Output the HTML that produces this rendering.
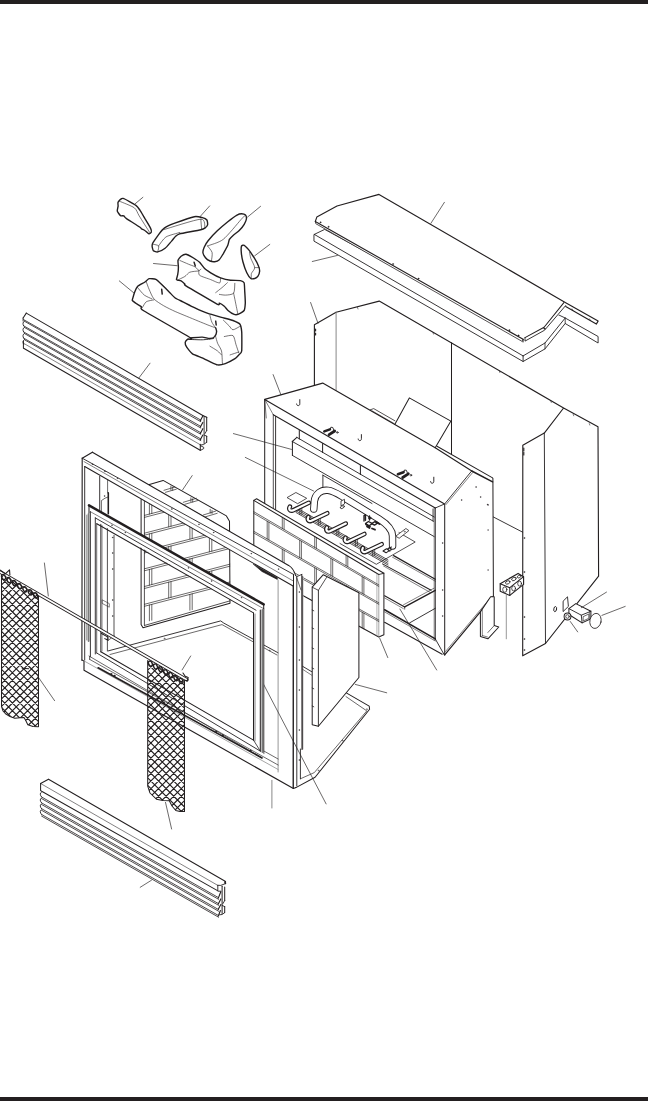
<!DOCTYPE html>
<html><head><meta charset="utf-8"><title>Exploded view</title>
<style>
html,body{margin:0;padding:0;background:#fff;}
body{width:648px;height:1101px;overflow:hidden;position:relative;font-family:"Liberation Sans",sans-serif;}
.bar{position:absolute;left:0;width:648px;background:#231f20;}
svg{position:absolute;left:0;top:0;}
</style></head><body>
<div class="bar" style="top:0;height:3.6px"></div>
<div class="bar" style="top:1097px;height:4px"></div>
<svg width="648" height="1101" viewBox="0 0 648 1101" fill="none" stroke-linecap="round" stroke-linejoin="round">
<path d="M118.1 202.2C118.6 201.4 121.2 198.1 123 198.4C124.8 198.7 134.2 204.2 135.9 205.4C137.6 206.6 139.1 209 140 210.3C140.9 211.6 143.8 216.6 144.8 218.4C145.9 220.2 149.8 226.7 150.5 228.1C151.2 229.5 151.5 231.5 151.3 232.1C151.1 232.7 149.6 234 148.9 233.8C148.2 233.6 145.5 231 144.8 230.5C144.1 230 142.1 229.2 141.6 228.9C141.1 228.6 141.5 228.4 140 227.3C138.5 226.2 127.8 219.5 126.2 218.4C124.6 217.3 124.4 216.2 123.8 215.9C123.2 215.6 121.2 216.1 120.5 215.6C119.8 215.1 117.5 212 117.3 211.1C117.1 210.2 118 207.1 118.1 206.2C118.2 205.3 117.6 203 118.1 202.2Z" stroke="#231f20" stroke-width="1.4" fill="#fff" />
<path d="M119.7 201.3C121.5 202.1 131.9 206 134.3 207.8C136.7 209.6 137.3 212.8 139.2 215.9C141.1 219 148.4 230.4 149.7 232.5" stroke="#231f20" stroke-width="0.62" fill="none" />
<path d="M135.1 203.8L142.9 197.3" stroke="#231f20" stroke-width="0.67"/>
<path d="M153 242.7C153.7 241.6 157.5 236.1 158.6 234.6C159.7 233.1 162.7 229.2 164.3 228.1C165.9 227 171.8 224.3 174.8 223.2C177.8 222.1 191.5 217.3 194.3 216.7C197.1 216.1 201.1 217.3 202.4 217.6C203.7 217.9 206.4 219.3 206.9 220C207.4 220.7 207.8 224 207.6 224.8C207.4 225.6 205.5 227.6 204.8 228.1C204.1 228.6 203.3 229.1 200.8 229.7C198.3 230.3 182.2 233.2 179.7 233.8C177.2 234.5 176.4 235.5 175.6 236.2C174.8 236.9 172.7 239.9 171.6 241.1C170.5 242.3 166.5 247.2 165.1 248.3C163.7 249.4 159 251.7 157.8 251.9C156.6 252.2 154 251.4 153.4 250.8C152.8 250.2 152.1 246.7 152.1 245.9C152.1 245.1 152.3 243.8 153 242.7Z" stroke="#231f20" stroke-width="1.4" fill="#fff" />
<path d="M163.5 229.7C168.2 228.4 195.6 219.4 200.8 219.2C206 219 204.3 227 204.8 228.1" stroke="#231f20" stroke-width="0.62" fill="none" />
<path d="M200.8 219.2C200.9 220.4 201.5 227.7 201.6 228.9" stroke="#231f20" stroke-width="0.62" fill="none" />
<path d="M153.4 244.3C154.1 244.5 158 245 158.6 245.9C159.2 246.8 157.9 250.8 157.8 251.5" stroke="#231f20" stroke-width="0.62" fill="none" />
<path d="M158.6 245.9C159.5 244.8 163.3 238.7 165.9 237C168.5 235.3 178 233.1 179.7 232.5" stroke="#231f20" stroke-width="0.62" fill="none" />
<path d="M200 216.7L209.7 205.9" stroke="#231f20" stroke-width="0.67"/>
<path d="M202.9 252.5C202.8 251.4 203.7 248.4 204.2 247.2C204.7 246 206.8 242.3 208.1 240.7C209.4 239.1 215.3 232.7 217.3 230.8C219.3 228.9 225.8 223.3 227.8 221.7C229.8 220.1 235.6 215.9 237 215.1C238.4 214.3 240.8 213.8 241.6 213.8C242.4 213.8 245 214.6 245.5 215.1C246 215.6 246.5 218.1 246.4 219C246.3 219.9 244.9 223.1 244.2 224.3C243.5 225.5 240.1 229.7 239 230.8C237.9 231.9 234.1 234.5 233.1 235.4C232.1 236.3 229.9 238.4 229.4 239.4C228.9 240.4 228.4 243.9 227.8 245.3C227.2 246.7 224 252.4 223.2 253.8C222.3 255.2 220.2 258.9 219.3 259.7C218.5 260.5 215.6 261.6 214.7 261.7C213.8 261.8 211 261.4 210.1 261C209.2 260.6 206.2 258.6 205.5 257.7C204.8 256.8 203 253.6 202.9 252.5Z" stroke="#231f20" stroke-width="1.4" fill="#fff" />
<path d="M207.5 245.9C209.5 245.1 219 242.7 223.2 239.4C227.4 236.1 238.2 222.7 240.9 219.7C243.6 216.7 244.4 216 244.9 215.5" stroke="#231f20" stroke-width="0.62" fill="none" />
<path d="M207.5 245.9C208.1 246.7 211.6 250.6 212.1 252.5C212.6 254.4 211.5 259.9 211.4 261" stroke="#231f20" stroke-width="0.62" fill="none" />
<path d="M247.5 217.1L260.6 206.3" stroke="#231f20" stroke-width="0.67"/>
<path d="M241.6 245.9C241.9 245.3 243.5 244.9 244.2 245.3C244.9 245.7 247.8 248.7 248.8 249.9C249.8 251.1 253.1 256.1 254.1 257.7C255.1 259.3 258.1 264.9 258.6 266.3C259.2 267.7 259.7 270.5 259.6 271.5C259.5 272.5 258.5 275.4 258 276.1C257.5 276.8 255.4 278.3 254.7 278.5C254 278.7 251.6 279.1 250.8 278.5C250 277.9 247.6 274.5 246.8 272.8C246 271.1 243.5 263.9 242.9 261.7C242.3 259.5 241.3 252.8 241.2 251.2C241.1 249.6 241.3 246.5 241.6 245.9Z" stroke="#231f20" stroke-width="1.4" fill="#fff" />
<path d="M249.5 252.5C249.7 253.2 250.2 256.5 250.8 258.4C251.5 260.3 254.6 265.7 254.7 267.6C254.8 269.5 251.8 272.2 251.4 273.5C251 274.8 251.4 277.7 251.4 278.3" stroke="#231f20" stroke-width="0.62" fill="none" />
<path d="M254.7 267.6C255.2 267.6 258.5 267.6 259 267.6" stroke="#231f20" stroke-width="0.62" fill="none" />
<path d="M254.7 255.8L269.8 244.4" stroke="#231f20" stroke-width="0.67"/>
<path d="M178 260.5C178.2 259.6 180.4 256.7 181.1 256.2C181.8 255.7 185 254.2 186 254.3C187 254.5 192.4 257.3 193.5 258C194.6 258.7 198.7 261.4 199.6 262.3C200.5 263.2 203.7 267.6 204.6 268.5C205.5 269.4 209.4 272 210.7 272.8C212 273.6 218.9 277.2 220.6 277.8C222.2 278.4 228.8 280 230.5 280.2C232.2 280.4 239.3 280.4 240.4 280.6C241.5 280.8 243.7 281.9 244.1 282.7C244.5 283.5 244.6 289 244.7 290.7C244.8 292.4 245.4 301.5 245.3 303.1C245.2 304.8 244.7 309.6 244.1 310.5C243.5 311.4 239.3 313.9 238.5 314.2C237.7 314.5 235.1 314.7 234.2 314.4C233.3 314.1 228.8 311.2 228 310.5C227.2 309.8 225 306.8 224.3 306.2C223.6 305.6 220 303.3 219.4 303.1C218.8 302.9 220.3 305.7 217.5 304.3C214.7 302.9 188.7 287.5 186 285.8C183.3 284.1 185.2 284.4 184.8 284C184.4 283.6 181.7 281.2 181.1 280.9C180.5 280.6 178.4 280.3 178 280.2C177.6 280.1 176.4 280.1 176.4 279.6C176.4 279.1 177.5 275.7 177.7 274.7C177.9 273.7 178.4 268.5 178.4 267.3C178.4 266.1 177.8 261.4 178 260.5Z" stroke="#231f20" stroke-width="1.4" fill="#fff" />
<path d="M179.9 260.5C181 261 186.7 263.4 188.5 264.2C190.3 265 193.4 265.9 194.7 266.7C196 267.5 198.2 270.1 199 270.4C199.8 270.7 200.7 269.3 200.9 269.1" stroke="#231f20" stroke-width="0.62" fill="none" />
<path d="M177.4 280.2C178.3 279.7 183.2 277.5 184.8 276.5C186.4 275.5 188.1 272.9 189.8 272.2C191.5 271.5 197.3 271.1 198.4 271" stroke="#231f20" stroke-width="0.62" fill="none" />
<path d="M199 270.4C199.1 271 198.1 274.1 199.6 275.3C201.1 276.5 208.5 278.7 210.7 279.6C212.9 280.5 215.7 281.9 216.9 282.3C218.1 282.7 219.5 283.2 220 282.7C220.5 282.2 220.5 278.9 220.6 278.4" stroke="#231f20" stroke-width="0.62" fill="none" />
<path d="M215.7 292.6C216.5 292 220.4 288.9 221.9 287.7C223.4 286.5 226.7 283.3 227.4 282.7" stroke="#231f20" stroke-width="0.62" fill="none" />
<path d="M219.4 294.4C220.2 294.5 223.8 295.2 225.6 295.1C227.4 295 232.4 294.7 233.6 293.2C234.8 291.7 234.7 284.5 234.8 283.3" stroke="#231f20" stroke-width="0.62" fill="none" />
<path d="M233.6 293.2C233.8 294.3 234.9 299.3 235.4 301.9C235.9 304.5 237.6 312.7 237.9 314.2" stroke="#231f20" stroke-width="0.62" fill="none" />
<path d="M194.1 262.3L195.3 266" stroke="#231f20" stroke-width="1.46"/>
<path d="M153.5 263.5L177.2 265.7" stroke="#231f20" stroke-width="0.67"/>
<path d="M132.3 299.9C132.5 299.2 134.2 293.3 134.6 292.2C135 291.1 136.7 287.2 137.5 286.4C138.3 285.6 143.3 283.1 144.3 282.5C145.3 281.9 148.1 279 149.1 278.7C150.1 278.4 154.8 278.8 155.9 279.3C157 279.8 160.6 283.4 161.7 284.5C162.8 285.6 168.3 291.1 169.4 292.2C170.5 293.3 174.1 297.2 175.2 298C176.3 298.8 181.3 301 182.9 301.8C184.5 302.6 192.3 306.6 194.4 307.6C196.5 308.6 205.6 312.6 207.9 313.4C210.2 314.2 219.4 316.7 221.5 317.3C223.6 317.9 231.5 319.9 233 320.5C234.5 321.1 239.1 323.1 239.8 324C240.5 324.9 241.5 329.4 241.7 331.7C241.9 333.9 241.9 349.1 241.7 351C241.5 352.9 239.4 354.3 238.8 354.9C238.2 355.5 236.1 358 235 358.7C233.9 359.4 226.8 363.1 225.3 363.6C223.9 364.1 218.9 365.1 217.6 364.9C216.3 364.7 211.2 362.2 209.9 361.6C208.6 361 203.6 358.4 202.2 357.8C200.8 357.2 193.8 354.8 192.5 353.9C191.2 353 187.3 348.2 186.7 347.2C186.1 346.2 185.1 343 185.2 342.3C185.3 341.6 187.2 339.5 187.7 339.1C188.1 338.7 194.3 340.3 190.6 337.9C186.9 335.5 147.4 313.1 143.3 310.5C139.2 307.9 142 307.3 141.4 306.7C140.8 306.1 137.3 304.3 136.6 303.8C135.9 303.3 133.1 301.2 132.7 300.9C132.3 300.6 132.1 300.6 132.3 299.9Z" stroke="#231f20" stroke-width="1.4" fill="#fff" />
<path d="M190.6 337.9C192 337.8 199.8 337 202.2 337.1C204.6 337.2 208.3 338.6 209.9 338.5C211.5 338.4 213.9 337.5 214.7 336.6C215.5 335.8 216.5 332.8 216.6 331.7C216.7 330.6 215.8 328.4 215.7 327.9" stroke="#231f20" stroke-width="1.4" fill="none" />
<path d="M188.7 339.4C190.4 339.4 199.1 339.9 202.2 339.8C205.3 339.7 212.3 338.7 213.7 338.5" stroke="#231f20" stroke-width="0.9" fill="none" />
<path d="M146.2 281.6C146.6 282.6 148.1 287.1 149.1 289.3C150.1 291.5 152.1 296.8 153.9 298.9C155.7 300.9 160.9 304.1 163.6 305.7C166.3 307.3 172.3 310.2 175.2 311.5C178.1 312.8 183.8 315.1 186.7 316.3C189.6 317.5 195.7 320 198.3 321.1C201 322.2 205.7 324.1 207.9 325C210.1 325.9 214.7 327.5 215.7 327.9" stroke="#231f20" stroke-width="0.62" fill="none" />
<path d="M137.5 287.4C138.3 288.4 142.5 293.7 144.3 295.1C146.1 296.5 151 298.4 152 298.9" stroke="#231f20" stroke-width="0.62" fill="none" />
<path d="M142.4 307.6C142.9 306.9 144.8 302.8 146.2 301.8C147.6 300.8 152.9 300.1 153.9 299.9" stroke="#231f20" stroke-width="0.62" fill="none" />
<path d="M209.9 315.3C210.1 316.2 211.1 320.5 211.8 322.1C212.5 323.7 215.2 327.2 215.7 327.9" stroke="#231f20" stroke-width="0.62" fill="none" />
<path d="M215.7 336.6C215.9 337.4 216.9 341.5 217.6 343.3C218.3 345.1 220.9 348.5 221.5 351C222.1 353.5 222.3 362 222.4 363.6" stroke="#231f20" stroke-width="0.62" fill="none" />
<path d="M223.4 320.2C224.1 320.9 228 324.7 229.2 325.9C230.4 327.1 231.6 329.8 233 329.8C234.4 329.8 239.7 326.4 240.7 325.9" stroke="#231f20" stroke-width="0.62" fill="none" />
<path d="M224.3 336.6C225.4 336.5 231.6 334.6 233 335.6C234.4 336.6 235.2 342.1 235.9 344.3C236.6 346.5 238.4 351.8 238.8 352.9" stroke="#231f20" stroke-width="0.62" fill="none" />
<path d="M230.1 354.9C231.2 354.5 237.7 352.4 238.8 352" stroke="#231f20" stroke-width="0.62" fill="none" />
<path d="M209.9 346.2C210.9 346.8 216.2 349.9 217.6 351C219 352.1 221 354.4 221.5 354.9" stroke="#231f20" stroke-width="0.62" fill="none" />
<path d="M161.7 289.3L162.2 294.1" stroke="#231f20" stroke-width="1.46"/>
<path d="M215.7 321.1L216.2 325" stroke="#231f20" stroke-width="1.46"/>
<path d="M119.3 280.9L133.7 292.8" stroke="#231f20" stroke-width="0.67"/>
<polygon points="314.3,234.4 324.7,229.4 523.3,338 557.4,314.3 565.2,318 598.1,336.5 598.1,343 565.2,323.5 545,348.9 523.1,361.5 314.3,241.3" stroke="#231f20" stroke-width="0.9" fill="#fff" />
<path d="M314.3 234.4L523.1 355.9" stroke="#231f20" stroke-width="0.9"/>
<path d="M523.1 355.9L523.1 361.5" stroke="#231f20" stroke-width="0.9"/>
<polyline points="523.1,355.9 545,343 565.2,318" stroke="#231f20" stroke-width="0.9" fill="none" />
<path d="M545 343L545 348.9" stroke="#231f20" stroke-width="0.78"/>
<path d="M565.2 318L565.2 323.5" stroke="#231f20" stroke-width="0.78"/>
<polygon points="315.3,221.5 316.8,217.1 337,206 379,194.4 564.8,302.2 598.1,321.1 596.3,324.1 565.7,306.5 545.9,330 525,341.1 522.3,341.5 315.8,223.7" stroke="none" stroke-width="0.1" fill="#fff" />
<polyline points="523.1,339.3 315.3,221.5 316.8,217.1 337,206 379,194.4 564.8,302.2 598.1,321.1 596.3,324.1 565.7,306.5" stroke="#231f20" stroke-width="1.12" fill="none" />
<polyline points="315.3,221.5 315.8,223.7 522.3,341.5 523.1,339.3" stroke="#231f20" stroke-width="0.78" fill="none" />
<path d="M523.1 339.3L523.1 342" stroke="#231f20" stroke-width="0.9"/>
<polyline points="525,337.6 544.1,327.2 563.9,302.6" stroke="#231f20" stroke-width="1.01" fill="none" />
<polyline points="525,337.6 525,341.1 544.6,330.2 565.7,305.5" stroke="#231f20" stroke-width="0.9" fill="none" />
<circle cx="544.4" cy="328.6" r="0.7" stroke="#231f20" stroke-width="0.56" fill="#231f20"/>
<circle cx="320.5" cy="222.3" r="0.6" stroke="#231f20" stroke-width="0.4" fill="#231f20"/>
<circle cx="328.5" cy="226.8" r="0.6" stroke="#231f20" stroke-width="0.4" fill="#231f20"/>
<circle cx="393" cy="264" r="0.6" stroke="#231f20" stroke-width="0.4" fill="#231f20"/>
<circle cx="418.5" cy="278.6" r="0.6" stroke="#231f20" stroke-width="0.4" fill="#231f20"/>
<circle cx="509.3" cy="330.2" r="0.6" stroke="#231f20" stroke-width="0.4" fill="#231f20"/>
<circle cx="518.5" cy="335.4" r="0.6" stroke="#231f20" stroke-width="0.4" fill="#231f20"/>
<path d="M572 308.8L573 310.6" stroke="#231f20" stroke-width="0.56"/>
<path d="M589.5 318.8L590.5 320.6" stroke="#231f20" stroke-width="0.56"/>
<path d="M430.9 223.3L444.4 202.3" stroke="#231f20" stroke-width="0.67"/>
<path d="M312.3 261.5L337.5 255.4" stroke="#231f20" stroke-width="0.67"/>
<polygon points="314.4,324.7 336.1,312.2 379.2,301.1 563.6,408 598,426.7 598.6,576.2 545.5,643.5 522.7,655.8 522.7,532.2 493.4,517 314.4,420" stroke="none" stroke-width="1.12" fill="#fff" />
<polyline points="314.4,386 314.4,324.7 336.1,312.2 379.2,301.1 563.6,408 598,426.7 598.6,576.2 545.5,643.5 522.7,655.8 522.8,445.3 544.3,433.1 563.6,408" stroke="#231f20" stroke-width="1.12" fill="none" />
<path d="M544.3 433.1L545.5 643.5" stroke="#231f20" stroke-width="0.9"/>
<path d="M336.1 312.2L336.1 390" stroke="#7a7a7a" stroke-width="0.9"/>
<path d="M451.5 342.8L451.5 456" stroke="#231f20" stroke-width="1.01"/>
<path d="M493.4 517L522.7 532.2" stroke="#231f20" stroke-width="0.9"/>
<path d="M315.6 329L315.6 331" stroke="#231f20" stroke-width="1.12"/>
<path d="M315.6 333L315.6 335" stroke="#231f20" stroke-width="1.12"/>
<path d="M357.5 307.5L358 309" stroke="#231f20" stroke-width="0.56"/>
<path d="M433 332.6L433.5 334.1" stroke="#231f20" stroke-width="0.56"/>
<path d="M499.4 371.1L499.9 372.6" stroke="#231f20" stroke-width="0.56"/>
<path d="M550.8 401L551.3 402.5" stroke="#231f20" stroke-width="0.56"/>
<path d="M573.2 414.3L573.7 415.8" stroke="#231f20" stroke-width="0.56"/>
<path d="M589.3 423.6L589.8 425.1" stroke="#231f20" stroke-width="0.56"/>
<path d="M523.8 448L523.8 451" stroke="#231f20" stroke-width="1.12"/>
<path d="M523.8 452.5L523.8 455" stroke="#231f20" stroke-width="1.12"/>
<circle cx="524.3" cy="538" r="0.5" stroke="#231f20" stroke-width="0.4" fill="#231f20"/>
<circle cx="524.3" cy="572" r="0.5" stroke="#231f20" stroke-width="0.4" fill="#231f20"/>
<circle cx="524.3" cy="617" r="0.5" stroke="#231f20" stroke-width="0.4" fill="#231f20"/>
<circle cx="524.3" cy="639" r="0.5" stroke="#231f20" stroke-width="0.4" fill="#231f20"/>
<circle cx="524.3" cy="650" r="0.5" stroke="#231f20" stroke-width="0.4" fill="#231f20"/>
<path d="M310.6 302.5L318 323.3" stroke="#231f20" stroke-width="0.67"/>
<polygon points="264.7,399.4 322.7,383.1 394.9,424.2 409.3,397.9 450.9,421.1 437,446.3 492.6,477.9 493.4,596.2 444.7,654.9 434.8,648 264.7,560" stroke="none" stroke-width="0.1" fill="#fff" />
<polyline points="394.9,424.2 409.3,397.9 450.9,421.1 435.2,447.8" stroke="#231f20" stroke-width="1.01" fill="#fff" />
<polyline points="370.3,409.8 373.7,408.6 394.9,420.8" stroke="#231f20" stroke-width="0.78" fill="none" />
<path d="M372 410.8L394 423.5" stroke="#231f20" stroke-width="0.56"/>
<polyline points="443.7,503.6 264.7,399.4 322.7,383.1 435.2,447.8 471.8,471" stroke="#231f20" stroke-width="1.12" fill="none" />
<path d="M437 446.3L492.6 477.9" stroke="#231f20" stroke-width="1.01"/>
<path d="M471.8 471L492.6 481.8" stroke="#231f20" stroke-width="1.46"/>
<path d="M492.9 478.2L493.4 596.2" stroke="#231f20" stroke-width="1.01"/>
<path d="M471.4 471.3L444.7 503.9" stroke="#231f20" stroke-width="0.9"/>
<path d="M472.6 472.6L446 504.6" stroke="#231f20" stroke-width="0.56"/>
<path d="M444.7 503.9L444.7 654.9" stroke="#231f20" stroke-width="1.01"/>
<path d="M435.3 508L444.7 503.9" stroke="#231f20" stroke-width="0.9"/>
<path d="M435.3 508L435.3 640" stroke="#231f20" stroke-width="0.9"/>
<path d="M434.2 508L434.2 640" stroke="#231f20" stroke-width="0.56"/>
<path d="M444.7 654.9L493.4 596.2" stroke="#231f20" stroke-width="1.23"/>
<path d="M445.5 651.5L491.5 596.5" stroke="#231f20" stroke-width="0.56"/>
<path d="M264.7 399.4L264.7 520" stroke="#231f20" stroke-width="1.01"/>
<path d="M264.7 399.4L273.3 414.7" stroke="#231f20" stroke-width="0.56"/>
<path d="M264.7 399.4L266.3 418" stroke="#231f20" stroke-width="0.56"/>
<path d="M273.3 414.7L273.3 520" stroke="#231f20" stroke-width="0.78"/>
<path d="M275.6 416.5L275.6 520" stroke="#231f20" stroke-width="0.9"/>
<path d="M273.3 414.7L435.3 508" stroke="#231f20" stroke-width="1.01"/>
<path d="M299.3 430.5L299.3 439" stroke="#231f20" stroke-width="1.01"/>
<path d="M322.6 443.5L322.6 452.5" stroke="#231f20" stroke-width="1.01"/>
<path d="M360.4 465.5L360.4 474.5" stroke="#231f20" stroke-width="1.01"/>
<path d="M296.9 437.4L434.2 517" stroke="#231f20" stroke-width="0.9"/>
<path d="M292.3 441.5L433.5 521.3" stroke="#231f20" stroke-width="0.9"/>
<path d="M292.4 455.4L434.2 536.6" stroke="#231f20" stroke-width="0.9"/>
<path d="M292.4 441.5L292.4 455.4" stroke="#231f20" stroke-width="1.01"/>
<path d="M292.3 441.5L296.9 437.4" stroke="#231f20" stroke-width="1.01"/>
<path d="M433 509L433 521" stroke="#231f20" stroke-width="0.78"/>
<path d="M322.9 475.2L322.9 487" stroke="#231f20" stroke-width="0.9"/>
<path d="M322.9 475.2L372 503.5" stroke="#231f20" stroke-width="0.9"/>
<circle cx="461.5" cy="500" r="0.4" stroke="#231f20" stroke-width="0.4" fill="#231f20"/>
<circle cx="476" cy="487" r="0.4" stroke="#231f20" stroke-width="0.4" fill="#231f20"/>
<circle cx="487.5" cy="504.5" r="0.4" stroke="#231f20" stroke-width="0.4" fill="#231f20"/>
<circle cx="480.5" cy="497" r="0.4" stroke="#231f20" stroke-width="0.4" fill="#231f20"/>
<circle cx="442.5" cy="543" r="0.4" stroke="#231f20" stroke-width="0.4" fill="#231f20"/>
<circle cx="442.5" cy="590" r="0.4" stroke="#231f20" stroke-width="0.4" fill="#231f20"/>
<circle cx="442.5" cy="616" r="0.4" stroke="#231f20" stroke-width="0.4" fill="#231f20"/>
<circle cx="488" cy="505" r="0.3" stroke="#231f20" stroke-width="0.4" fill="#231f20"/>
<circle cx="488" cy="530" r="0.3" stroke="#231f20" stroke-width="0.4" fill="#231f20"/>
<circle cx="488" cy="570" r="0.3" stroke="#231f20" stroke-width="0.4" fill="#231f20"/>
<path d="M299.8 399.6v4.1c0 1.3 -0.6 1.9 -1.6 1.9c-1 0 -1.5 -0.6 -1.6 -1.6" stroke="#231f20" stroke-width="0.95" fill="none" />
<path d="M361.4 434.6v4.1c0 1.3 -0.6 1.9 -1.6 1.9c-1 0 -1.5 -0.6 -1.6 -1.6" stroke="#231f20" stroke-width="0.95" fill="none" />
<path d="M433.8 477.2v4.1c0 1.3 -0.6 1.9 -1.6 1.9c-1 0 -1.5 -0.6 -1.6 -1.6" stroke="#231f20" stroke-width="0.95" fill="none" />
<path d="M324.3 431.4l5.6 -2" stroke="#231f20" stroke-width="2.58" fill="none" />
<path d="M329.1 434.7l5.6 -3.7" stroke="#231f20" stroke-width="2.8" fill="none" />
<path d="M330.1 429.6l0.8 -2.4l1.9 0.3l1.6 4.2" stroke="#231f20" stroke-width="0.9" fill="none" />
<circle cx="337.3" cy="432.4" r="0.8" stroke="#231f20" stroke-width="0.78" fill="none"/>
<path d="M397.9 474.2l5.6 -2" stroke="#231f20" stroke-width="2.58" fill="none" />
<path d="M402.7 477.5l5.6 -3.7" stroke="#231f20" stroke-width="2.8" fill="none" />
<path d="M403.7 472.4l0.8 -2.4l1.9 0.3l1.6 4.2" stroke="#231f20" stroke-width="0.9" fill="none" />
<circle cx="410.9" cy="475.2" r="0.8" stroke="#231f20" stroke-width="0.78" fill="none"/>
<path d="M273.1 374.6L280.9 394.7" stroke="#231f20" stroke-width="0.67"/>
<path d="M233.4 433.6L291.5 449.4" stroke="#231f20" stroke-width="0.67"/>
<path d="M245.3 457.4L313.6 491" stroke="#231f20" stroke-width="0.67"/>
<path d="M393.6 555.6L435.3 579.2" stroke="#231f20" stroke-width="1.23"/>
<path d="M392.5 557.2L435.3 581.2" stroke="#231f20" stroke-width="0.56"/>
<path d="M382.5 563.9L431.1 590.3" stroke="#231f20" stroke-width="1.01"/>
<path d="M383.5 566L430 592.3" stroke="#231f20" stroke-width="0.56"/>
<path d="M404.7 606.9L435.3 590.3" stroke="#231f20" stroke-width="1.34"/>
<path d="M403.5 604.8L434 588.2" stroke="#231f20" stroke-width="0.56"/>
<path d="M384.6 595.8L404.7 606.9" stroke="#231f20" stroke-width="1.12"/>
<path d="M384.6 597.9L403.3 608.6" stroke="#231f20" stroke-width="0.56"/>
<path d="M404.7 606.9L404.7 609.2" stroke="#231f20" stroke-width="0.67"/>
<path d="M409.6 622.9L435.3 608.3" stroke="#231f20" stroke-width="0.9"/>
<path d="M384.6 609.7L435.3 638.9" stroke="#231f20" stroke-width="1.57"/>
<path d="M384.6 611.9L435.3 641" stroke="#231f20" stroke-width="0.56"/>
<path d="M384.6 622.2L442.2 654.2" stroke="#231f20" stroke-width="1.01"/>
<path d="M435.3 638.9L444.3 654.9" stroke="#231f20" stroke-width="0.9"/>
<polyline points="399,532.6 415.2,542 376.3,564.3 340,543.5" stroke="#231f20" stroke-width="0.78" fill="#fff" />
<polygon points="396,536 405.9,528.5 408.9,530.6 399.5,538" stroke="#231f20" stroke-width="0.78" fill="#fff" />
<circle cx="404.6" cy="531.6" r="0.6" stroke="#231f20" stroke-width="0.4" fill="none"/>
<polygon points="287.4,497.4 295.9,492.5 306.7,498.3 298,503.5" stroke="#231f20" stroke-width="0.78" fill="#fff" />
<path d="M296 507.5L388 560" stroke="#231f20" stroke-width="0.78"/>
<path d="M296 509.1L388 561.6" stroke="#231f20" stroke-width="0.78"/>
<path d="M296 510.9L388 563.4" stroke="#231f20" stroke-width="0.78"/>
<path d="M296 512.5L388 565" stroke="#231f20" stroke-width="0.78"/>
<path d="M313.8 509L314.3 501.5C315 494 321 489.5 328 490.3C333 490.8 338 494 343 497L379 519C387 524 392.3 529 392.5 536L392.6 546" stroke="#231f20" stroke-width="7.39" fill="none" />
<path d="M313.8 509L314.3 501.5C315 494 321 489.5 328 490.3C333 490.8 338 494 343 497L379 519C387 524 392.3 529 392.5 536L392.6 546" stroke="#fff" stroke-width="5.6" fill="none" />
<polygon points="341,505.5 341,501 344.5,499.3 344.5,503.5" stroke="#231f20" stroke-width="0.78" fill="#fff" />
<ellipse cx="342.3" cy="507.1" rx="2.2" ry="1.2" stroke="#231f20" stroke-width="0.78" fill="#fff" transform="rotate(-25 342.3 507.1)"/>
<path d="M364 521l0 -5.5l1.5 -0.8l0 5.6M369.5 520v-4M365.5 523.5l3 -2l3.5 1.8l3 -1.6l2.5 1.4l-3 2l-2.5 -1.2l-3 1.8z" stroke="#231f20" stroke-width="1.34" fill="none" />
<path d="M367 526.5l2.5 1.5M372 528.5l3 1.2M366 524.5l4 2M376 522l3.5 2" stroke="#231f20" stroke-width="1.79" fill="none" />
<circle cx="369.7" cy="518" r="1.2" stroke="#231f20" stroke-width="0.9" fill="none"/>
<path d="M383 551l3.5 -2.2l3 1.6l-3.4 2.4zM388 548.5l3.5 -1.5" stroke="#231f20" stroke-width="1.01" fill="none" />
<circle cx="389.6" cy="549.6" r="1.6" stroke="#231f20" stroke-width="0.9" fill="none"/>
<path d="M289.9 506.6C288.5 509 289.7 511.6 292.9 510.4L308.8 502.8" stroke="#231f20" stroke-width="4.59" fill="none" />
<path d="M289.9 506.6C288.5 509 289.7 511.6 292.9 510.4L308.8 502.8" stroke="#fff" stroke-width="2.24" fill="none" />
<path d="M299.8 509L299.8 514.7" stroke="#231f20" stroke-width="0.67"/>
<path d="M301.8 508.2L301.8 514.2" stroke="#231f20" stroke-width="0.67"/>
<path d="M308.4 517C307 519.4 308.2 522 311.4 520.8L327.3 513.2" stroke="#231f20" stroke-width="4.59" fill="none" />
<path d="M308.4 517C307 519.4 308.2 522 311.4 520.8L327.3 513.2" stroke="#fff" stroke-width="2.24" fill="none" />
<path d="M318.3 519.4L318.3 525.1" stroke="#231f20" stroke-width="0.67"/>
<path d="M320.3 518.6L320.3 524.6" stroke="#231f20" stroke-width="0.67"/>
<path d="M326.9 527.4C325.5 529.8 326.7 532.4 329.9 531.2L345.8 523.6" stroke="#231f20" stroke-width="4.59" fill="none" />
<path d="M326.9 527.4C325.5 529.8 326.7 532.4 329.9 531.2L345.8 523.6" stroke="#fff" stroke-width="2.24" fill="none" />
<path d="M336.8 529.8L336.8 535.5" stroke="#231f20" stroke-width="0.67"/>
<path d="M338.8 529L338.8 535" stroke="#231f20" stroke-width="0.67"/>
<path d="M345.5 537.8C344.1 540.2 345.3 542.8 348.5 541.6L364.4 534" stroke="#231f20" stroke-width="4.59" fill="none" />
<path d="M345.5 537.8C344.1 540.2 345.3 542.8 348.5 541.6L364.4 534" stroke="#fff" stroke-width="2.24" fill="none" />
<path d="M355.4 540.2L355.4 545.9" stroke="#231f20" stroke-width="0.67"/>
<path d="M357.4 539.4L357.4 545.4" stroke="#231f20" stroke-width="0.67"/>
<path d="M362.8 548C361.4 550.4 362.6 553 365.8 551.8L381.7 544.2" stroke="#231f20" stroke-width="4.59" fill="none" />
<path d="M362.8 548C361.4 550.4 362.6 553 365.8 551.8L381.7 544.2" stroke="#fff" stroke-width="2.24" fill="none" />
<path d="M372.7 550.4L372.7 556.1" stroke="#231f20" stroke-width="0.67"/>
<path d="M374.7 549.6L374.7 555.6" stroke="#231f20" stroke-width="0.67"/>
<polygon points="253.8,500.4 256.6,498.8 383.9,573.3 383.9,634.7 378.8,637 253.8,568.7" stroke="#231f20" stroke-width="1.01" fill="#fff" />
<path d="M253.8 500.4L378.8 574.5" stroke="#231f20" stroke-width="1.01"/>
<path d="M378.8 574.5L378.8 637" stroke="#7a7a7a" stroke-width="0.67"/>
<path d="M376.9 573.6L376.9 636" stroke="#7a7a7a" stroke-width="0.56"/>
<path d="M378.8 574.5L383.9 573.3" stroke="#231f20" stroke-width="0.9"/>
<path d="M253.8 511.7L378.8 584.9" stroke="#231f20" stroke-width="0.67"/>
<path d="M253.8 513.4L378.8 586.4" stroke="#231f20" stroke-width="0.67"/>
<path d="M253.8 531.3L378.8 602.8" stroke="#231f20" stroke-width="0.67"/>
<path d="M253.8 533L378.8 604.3" stroke="#231f20" stroke-width="0.67"/>
<path d="M253.8 550.1L378.8 620" stroke="#231f20" stroke-width="0.67"/>
<path d="M253.8 551.8L378.8 621.5" stroke="#231f20" stroke-width="0.67"/>
<path d="M282.3 517.3L282.3 528.4" stroke="#231f20" stroke-width="0.67"/>
<path d="M284.1 518.3L284.1 529.4" stroke="#231f20" stroke-width="0.67"/>
<path d="M314.7 536.5L314.7 547.4" stroke="#231f20" stroke-width="0.67"/>
<path d="M316.4 537.5L316.4 548.4" stroke="#231f20" stroke-width="0.67"/>
<path d="M346.1 555.1L346.1 565.7" stroke="#231f20" stroke-width="0.67"/>
<path d="M347.8 556.1L347.8 566.7" stroke="#231f20" stroke-width="0.67"/>
<path d="M267.2 521.2L267.2 539" stroke="#231f20" stroke-width="0.67"/>
<path d="M268.9 522.2L268.9 540" stroke="#231f20" stroke-width="0.67"/>
<path d="M299.7 540.2L299.7 557.6" stroke="#231f20" stroke-width="0.67"/>
<path d="M301.4 541.2L301.4 558.6" stroke="#231f20" stroke-width="0.67"/>
<path d="M330.9 558.4L330.9 575.4" stroke="#231f20" stroke-width="0.67"/>
<path d="M332.7 559.4L332.7 576.4" stroke="#231f20" stroke-width="0.67"/>
<path d="M362.2 576.7L362.2 593.3" stroke="#231f20" stroke-width="0.67"/>
<path d="M363.9 577.7L363.9 594.3" stroke="#231f20" stroke-width="0.67"/>
<path d="M282.3 549.2L282.3 566.1" stroke="#231f20" stroke-width="0.67"/>
<path d="M284.1 550.2L284.1 567" stroke="#231f20" stroke-width="0.67"/>
<path d="M314.7 567.7L314.7 584.2" stroke="#231f20" stroke-width="0.67"/>
<path d="M316.4 568.7L316.4 585.1" stroke="#231f20" stroke-width="0.67"/>
<path d="M346.1 585.6L346.1 601.7" stroke="#231f20" stroke-width="0.67"/>
<path d="M347.8 586.6L347.8 602.7" stroke="#231f20" stroke-width="0.67"/>
<path d="M267.2 559.2L267.2 576" stroke="#231f20" stroke-width="0.67"/>
<path d="M268.9 560.2L268.9 577" stroke="#231f20" stroke-width="0.67"/>
<path d="M299.7 577.4L299.7 593.8" stroke="#231f20" stroke-width="0.67"/>
<path d="M301.4 578.3L301.4 594.7" stroke="#231f20" stroke-width="0.67"/>
<path d="M330.9 594.8L330.9 610.8" stroke="#231f20" stroke-width="0.67"/>
<path d="M332.7 595.8L332.7 611.8" stroke="#231f20" stroke-width="0.67"/>
<path d="M362.2 612.2L362.2 627.9" stroke="#231f20" stroke-width="0.67"/>
<path d="M363.9 613.2L363.9 628.9" stroke="#231f20" stroke-width="0.67"/>
<path d="M379.7 638.2L387.8 657.6" stroke="#231f20" stroke-width="0.67"/>
<path d="M399.9 609L436.7 670" stroke="#231f20" stroke-width="0.67"/>
<polygon points="312.2,587.2 323.3,574.7 358.9,592.8 358.9,677.5 318.4,726.3 312.2,724.7" stroke="#231f20" stroke-width="1.01" fill="#fff" />
<path d="M318.4 590.3L318.4 726.3" stroke="#231f20" stroke-width="0.9"/>
<path d="M317.8 590L323.3 574.7" stroke="#231f20" stroke-width="0.0"/>
<polyline points="312.2,587.2 318.4,590.3 326.5,577.5" stroke="#231f20" stroke-width="0.78" fill="none" />
<path d="M312.2 610L313.8 610.8" stroke="#231f20" stroke-width="0.78"/>
<path d="M312.2 628L313.8 628.8" stroke="#231f20" stroke-width="0.78"/>
<path d="M312.2 648L313.8 648.8" stroke="#231f20" stroke-width="0.78"/>
<path d="M312.2 668L313.8 668.8" stroke="#231f20" stroke-width="0.78"/>
<path d="M312.2 688L313.8 688.8" stroke="#231f20" stroke-width="0.78"/>
<path d="M312.2 706L313.8 706.8" stroke="#231f20" stroke-width="0.78"/>
<path d="M355.3 684.4L386.7 692.8" stroke="#231f20" stroke-width="0.67"/>
<polygon points="82.2,458.2 92.4,452.2 288.6,565.4 295.6,575.8 301.8,574.4 303.2,577 303.2,781 293.4,788.5 84,670.2 81.9,660.1" stroke="none" stroke-width="0.1" fill="#fff" />
<polygon points="141.1,499.6 147.7,485 163.1,480.4 226.4,515.9 229.5,521.3 230,603.3 143,627.8 141.1,624.6" stroke="#231f20" stroke-width="1.01" fill="#fff" />
<path d="M144.4 497L144.4 625" stroke="#231f20" stroke-width="0.78"/>
<path d="M144.4 625.5L229.5 601" stroke="#231f20" stroke-width="0.78"/>
<path d="M165.5 492.3L176.3 489.2" stroke="#231f20" stroke-width="0.67"/>
<path d="M164 490.3L174.8 487" stroke="#231f20" stroke-width="0.67"/>
<path d="M184.8 504.3L197.9 500.5" stroke="#231f20" stroke-width="0.67"/>
<path d="M183.3 502.3L196.4 498.3" stroke="#231f20" stroke-width="0.67"/>
<path d="M204.8 517L217.2 513.3" stroke="#231f20" stroke-width="0.67"/>
<path d="M203.3 515L215.7 511.1" stroke="#231f20" stroke-width="0.67"/>
<path d="M170.9 486.1L170.9 489.9" stroke="#231f20" stroke-width="0.67"/>
<path d="M172.7 487.1L172.7 490.3" stroke="#231f20" stroke-width="0.67"/>
<path d="M190.9 497.8L190.9 501.6" stroke="#231f20" stroke-width="0.67"/>
<path d="M192.7 498.8L192.7 502" stroke="#231f20" stroke-width="0.67"/>
<path d="M210.2 509.3L210.2 513.1" stroke="#231f20" stroke-width="0.67"/>
<path d="M212 510.3L212 513.5" stroke="#231f20" stroke-width="0.67"/>
<path d="M147.7 485L214 522.5" stroke="#231f20" stroke-width="0.67"/>
<path d="M144.4 604.3L229.8 582" stroke="#231f20" stroke-width="0.67"/>
<path d="M144.4 606.3L229.8 584" stroke="#231f20" stroke-width="0.67"/>
<path d="M144.4 586.5L229.8 564.2" stroke="#231f20" stroke-width="0.67"/>
<path d="M144.4 588.5L229.8 566.2" stroke="#231f20" stroke-width="0.67"/>
<path d="M144.4 568.8L229.8 546.5" stroke="#231f20" stroke-width="0.67"/>
<path d="M144.4 570.8L229.8 548.5" stroke="#231f20" stroke-width="0.67"/>
<path d="M144.4 551L226.4 529.6" stroke="#231f20" stroke-width="0.67"/>
<path d="M144.4 553L228.8 530.9" stroke="#231f20" stroke-width="0.67"/>
<path d="M144.4 533.2L204.9 517.4" stroke="#231f20" stroke-width="0.67"/>
<path d="M144.4 535.2L207.4 518.8" stroke="#231f20" stroke-width="0.67"/>
<path d="M144.4 515.4L183.4 505.2" stroke="#231f20" stroke-width="0.67"/>
<path d="M144.4 517.4L185.9 506.6" stroke="#231f20" stroke-width="0.67"/>
<path d="M149.4 605L149.4 620.8" stroke="#231f20" stroke-width="0.67"/>
<path d="M151.8 604.4L151.8 620.2" stroke="#231f20" stroke-width="0.67"/>
<path d="M189.9 594.4L189.9 610.2" stroke="#231f20" stroke-width="0.67"/>
<path d="M192.2 593.8L192.2 609.6" stroke="#231f20" stroke-width="0.67"/>
<path d="M168.7 582.2L168.7 598" stroke="#231f20" stroke-width="0.67"/>
<path d="M171 581.6L171 597.4" stroke="#231f20" stroke-width="0.67"/>
<path d="M209.4 571.6L209.4 587.3" stroke="#231f20" stroke-width="0.67"/>
<path d="M211.8 571L211.8 586.7" stroke="#231f20" stroke-width="0.67"/>
<path d="M149.4 569.4L149.4 585.2" stroke="#231f20" stroke-width="0.67"/>
<path d="M151.8 568.8L151.8 584.6" stroke="#231f20" stroke-width="0.67"/>
<path d="M189.9 558.9L189.9 574.6" stroke="#231f20" stroke-width="0.67"/>
<path d="M192.2 558.3L192.2 574" stroke="#231f20" stroke-width="0.67"/>
<path d="M168.7 546.6L168.7 562.4" stroke="#231f20" stroke-width="0.67"/>
<path d="M171 546L171 561.8" stroke="#231f20" stroke-width="0.67"/>
<path d="M209.4 536L209.4 551.8" stroke="#231f20" stroke-width="0.67"/>
<path d="M211.8 535.4L211.8 551.2" stroke="#231f20" stroke-width="0.67"/>
<path d="M149.4 533.9L149.4 549.7" stroke="#231f20" stroke-width="0.67"/>
<path d="M151.8 533.3L151.8 549.1" stroke="#231f20" stroke-width="0.67"/>
<path d="M189.9 523.3L189.9 539.1" stroke="#231f20" stroke-width="0.67"/>
<path d="M192.2 522.7L192.2 538.5" stroke="#231f20" stroke-width="0.67"/>
<path d="M168.7 511.1L168.7 526.9" stroke="#231f20" stroke-width="0.67"/>
<path d="M171 510.5L171 526.3" stroke="#231f20" stroke-width="0.67"/>
<path d="M149.4 498.3L149.4 514.1" stroke="#231f20" stroke-width="0.67"/>
<path d="M151.8 497.7L151.8 513.5" stroke="#231f20" stroke-width="0.67"/>
<path d="M182.5 490L192.2 475.6" stroke="#231f20" stroke-width="0.67"/>
<polyline points="108.2,650.9 220.7,620.9 223.8,623.1 278.1,652.8" stroke="#231f20" stroke-width="0.9" fill="none" />
<polyline points="110,654.5 222,624.6 277,655" stroke="#231f20" stroke-width="0.67" fill="none" />
<circle cx="131" cy="647.5" r="0.5" stroke="#231f20" stroke-width="0.4" fill="none"/>
<circle cx="164.5" cy="638.5" r="0.5" stroke="#231f20" stroke-width="0.4" fill="none"/>
<circle cx="269.5" cy="650.5" r="0.5" stroke="#231f20" stroke-width="0.4" fill="none"/>
<path d="M114 535.3L114 636" stroke="#231f20" stroke-width="0.78"/>
<path d="M114 636L108.3 640.3" stroke="#231f20" stroke-width="0.67"/>
<circle cx="112.6" cy="537.5" r="0.4" stroke="#231f20" stroke-width="0.4" fill="#231f20"/>
<circle cx="112.6" cy="553" r="0.4" stroke="#231f20" stroke-width="0.4" fill="#231f20"/>
<circle cx="112.6" cy="569" r="0.4" stroke="#231f20" stroke-width="0.4" fill="#231f20"/>
<circle cx="112.6" cy="600" r="0.4" stroke="#231f20" stroke-width="0.4" fill="#231f20"/>
<circle cx="112.6" cy="616" r="0.4" stroke="#231f20" stroke-width="0.4" fill="#231f20"/>
<polygon points="102.5,600 109.3,603.6 109.3,607.2 102.5,603.6" stroke="#231f20" stroke-width="0.56" fill="none" />
<path d="M101.5 633.5l6.5 3.6v3.2l-3.2 -1.7" stroke="#231f20" stroke-width="1.01" fill="none" />
<path d="M278.1 580L278.1 772" stroke="#7a7a7a" stroke-width="0.78"/>
<polygon points="82.2,458.2 92.4,452.2 288.6,565.4 295.6,575.8 293.5,586.3 84.7,466.5" stroke="none" stroke-width="0.1" fill="#fff" />
<path d="M92.4 452.2L288.6 565.4" stroke="#231f20" stroke-width="1.12"/>
<path d="M288.6 565.4C292 567.5 294.5 571 295.6 575.8" stroke="#231f20" stroke-width="1.01" fill="none" />
<path d="M82.2 458.2L92.4 452.2" stroke="#231f20" stroke-width="1.12"/>
<path d="M82.2 458.2L293.5 574.4" stroke="#231f20" stroke-width="0.9"/>
<path d="M84 461.6L292.8 580.7" stroke="#231f20" stroke-width="0.56"/>
<path d="M84.7 466.5L293.5 586.3" stroke="#231f20" stroke-width="1.01"/>
<circle cx="92.4" cy="464.2" r="0.4" stroke="#231f20" stroke-width="0.4" fill="#231f20"/>
<circle cx="104.9" cy="471.3" r="0.4" stroke="#231f20" stroke-width="0.4" fill="#231f20"/>
<circle cx="117.4" cy="478.3" r="0.4" stroke="#231f20" stroke-width="0.4" fill="#231f20"/>
<circle cx="171.8" cy="509" r="0.4" stroke="#231f20" stroke-width="0.4" fill="#231f20"/>
<circle cx="198.9" cy="524.3" r="0.4" stroke="#231f20" stroke-width="0.4" fill="#231f20"/>
<circle cx="213.6" cy="532.5" r="0.4" stroke="#231f20" stroke-width="0.4" fill="#231f20"/>
<circle cx="251.2" cy="553.7" r="0.4" stroke="#231f20" stroke-width="0.4" fill="#231f20"/>
<circle cx="278.4" cy="569.1" r="0.4" stroke="#231f20" stroke-width="0.4" fill="#231f20"/>
<path d="M253.5 564.2L277.3 577.8L277.3 579.4L262 571.5Z" stroke="#231f20" stroke-width="0.67" fill="#231f20" />
<path d="M82.2 458.2L81.9 660.1" stroke="#231f20" stroke-width="1.12"/>
<path d="M84.7 466.5L84.7 660" stroke="#231f20" stroke-width="0.9"/>
<path d="M99.7 476.3L99.7 652" stroke="#231f20" stroke-width="0.9"/>
<path d="M107.6 480L107.6 493" stroke="#231f20" stroke-width="0.67"/>
<path d="M108.3 492.9L108.3 513.7" stroke="#231f20" stroke-width="1.57"/>
<polyline points="101.4,513 101.4,500.6 105,498.2 108,497" stroke="#231f20" stroke-width="0.67" fill="none" />
<circle cx="104.4" cy="496" r="0.4" stroke="#231f20" stroke-width="0.4" fill="#231f20"/>
<path d="M107.4 520L107.4 651" stroke="#231f20" stroke-width="0.78"/>
<polygon points="293.5,574.4 296.3,576.8 301.8,574.4 303.2,577 303.2,749 300.8,779 295.9,787.6 293.4,788.5" stroke="none" stroke-width="0.1" fill="#fff" />
<path d="M293.5 574.4L293.4 788.5" stroke="#231f20" stroke-width="1.01"/>
<path d="M296.8 577L296.8 786" stroke="#231f20" stroke-width="0.9"/>
<path d="M301.8 574.4L302 749.4" stroke="#231f20" stroke-width="1.01"/>
<path d="M300.4 749L300.4 778.8" stroke="#231f20" stroke-width="0.9"/>
<path d="M296.3 576.8L301.8 574.4" stroke="#231f20" stroke-width="0.9"/>
<path d="M296.8 578L301 590" stroke="#231f20" stroke-width="0.67"/>
<path d="M302.7 576.5L302.7 749" stroke="#231f20" stroke-width="0.78"/>
<circle cx="299.2" cy="592" r="0.4" stroke="#231f20" stroke-width="0.4" fill="#231f20"/>
<circle cx="299.2" cy="627" r="0.4" stroke="#231f20" stroke-width="0.4" fill="#231f20"/>
<circle cx="299.2" cy="660" r="0.4" stroke="#231f20" stroke-width="0.4" fill="#231f20"/>
<circle cx="299.2" cy="690" r="0.4" stroke="#231f20" stroke-width="0.4" fill="#231f20"/>
<circle cx="299.2" cy="730" r="0.4" stroke="#231f20" stroke-width="0.4" fill="#231f20"/>
<circle cx="299.2" cy="760" r="0.4" stroke="#231f20" stroke-width="0.4" fill="#231f20"/>
<path d="M292.8 586L292.8 788" stroke="#231f20" stroke-width="0.56"/>
<polyline points="81.9,660.1 84,660.9 84,670.2 293.4,788.5" stroke="#231f20" stroke-width="1.12" fill="none" />
<path d="M293.4 788.5L295.9 787.6" stroke="#231f20" stroke-width="1.01"/>
<path d="M295.9 787.6L310 779.1" stroke="#231f20" stroke-width="0.0"/>
<path d="M89.7 653.2L89.7 659.4" stroke="#231f20" stroke-width="0.78"/>
<path d="M89.7 659.4L278.1 765" stroke="#231f20" stroke-width="0.67"/>
<path d="M95 656.3L278.1 759" stroke="#231f20" stroke-width="0.67"/>
<path d="M84 660.9L278.1 769.5" stroke="#7a7a7a" stroke-width="0.67"/>
<path d="M98.1 667.8L262 757.9" stroke="#231f20" stroke-width="1.68"/>
<circle cx="111.2" cy="674" r="0.7" stroke="#231f20" stroke-width="0.56" fill="#231f20"/>
<circle cx="114.5" cy="675.8" r="0.7" stroke="#231f20" stroke-width="0.56" fill="#231f20"/>
<circle cx="157.1" cy="699.2" r="0.7" stroke="#231f20" stroke-width="0.56" fill="#231f20"/>
<circle cx="163.7" cy="702.8" r="0.7" stroke="#231f20" stroke-width="0.56" fill="#231f20"/>
<circle cx="216.1" cy="731.7" r="0.7" stroke="#231f20" stroke-width="0.56" fill="#231f20"/>
<circle cx="222.7" cy="735.3" r="0.7" stroke="#231f20" stroke-width="0.56" fill="#231f20"/>
<circle cx="250.5" cy="750.6" r="0.7" stroke="#231f20" stroke-width="0.56" fill="#231f20"/>
<polyline points="295.9,787.6 315.1,777.2 369.6,709.3 369.2,706.1 346.7,693.1" stroke="#231f20" stroke-width="1.01" fill="none" />
<polyline points="300.4,778.8 314.3,772.6 366.8,710.9 346,696.6" stroke="#231f20" stroke-width="0.67" fill="none" />
<circle cx="318.5" cy="770.5" r="0.5" stroke="#231f20" stroke-width="0.4" fill="none"/>
<circle cx="342.5" cy="740.5" r="0.5" stroke="#231f20" stroke-width="0.4" fill="none"/>
<circle cx="366.8" cy="709.2" r="0.5" stroke="#231f20" stroke-width="0.4" fill="none"/>
<path d="M302.6 666.3L311.7 671.7" stroke="#231f20" stroke-width="0.9"/>
<path d="M302.6 669.3L311.7 675.2" stroke="#231f20" stroke-width="0.56"/>
<path d="M271.9 780.3L271.9 808" stroke="#7a7a7a" stroke-width="0.9"/>
<path d="M262.2 681.7L326.1 803.9" stroke="#231f20" stroke-width="0.67"/>
<path d="M89 505.4L263.7 604.4L263.7 753.7L89 656Z M100.8 524.3L253.5 612.9L253.5 740.1L100.8 651.8Z" stroke="none" stroke-width="0.1" fill="#fff" fill-rule="evenodd"/>
<path d="M89 505.4L263.7 604.4" stroke="#231f20" stroke-width="2.46"/>
<path d="M90.4 511.7L263.7 608.7" stroke="#231f20" stroke-width="0.56"/>
<path d="M95.3 517.9L256 610.2" stroke="#231f20" stroke-width="0.9"/>
<path d="M96.8 523.8L253.5 612.9" stroke="#231f20" stroke-width="1.01"/>
<path d="M263.7 604.4L263.7 608.7" stroke="#231f20" stroke-width="1.01"/>
<path d="M89 505.4L89 513" stroke="#231f20" stroke-width="1.01"/>
<circle cx="111.9" cy="525.2" r="0.4" stroke="#231f20" stroke-width="0.4" fill="#231f20"/>
<circle cx="125.2" cy="532.6" r="0.4" stroke="#231f20" stroke-width="0.4" fill="#231f20"/>
<circle cx="188.3" cy="567.9" r="0.4" stroke="#231f20" stroke-width="0.4" fill="#231f20"/>
<circle cx="211.5" cy="581" r="0.4" stroke="#231f20" stroke-width="0.4" fill="#231f20"/>
<circle cx="241.4" cy="597.7" r="0.4" stroke="#231f20" stroke-width="0.4" fill="#231f20"/>
<path d="M86.8 515.1L86.8 640" stroke="#7a7a7a" stroke-width="0.9"/>
<path d="M88.6 514L88.6 641" stroke="#7a7a7a" stroke-width="1.79"/>
<path d="M90.4 511.7L90.4 656.5" stroke="#231f20" stroke-width="0.9"/>
<path d="M95.3 517.9L95.3 654" stroke="#231f20" stroke-width="0.9"/>
<path d="M96.7 523.5L96.7 653" stroke="#231f20" stroke-width="0.67"/>
<path d="M100.8 524.3L100.8 651.8" stroke="#231f20" stroke-width="0.9"/>
<path d="M102 525.5L102 651" stroke="#231f20" stroke-width="0.56"/>
<path d="M253.5 612.9L253.5 740.1" stroke="#231f20" stroke-width="1.01"/>
<path d="M260.3 610L260.3 751.1" stroke="#231f20" stroke-width="1.01"/>
<path d="M262.6 610L262.6 752" stroke="#7a7a7a" stroke-width="2.24"/>
<path d="M263.9 609L263.9 753.7" stroke="#231f20" stroke-width="0.67"/>
<path d="M255 614L255 741" stroke="#231f20" stroke-width="0.56"/>
<path d="M100.8 651.8L253.5 740.1" stroke="#231f20" stroke-width="1.01"/>
<path d="M96.7 653L260.3 751.1" stroke="#231f20" stroke-width="0.9"/>
<path d="M253.5 740.1L260.3 751.1" stroke="#231f20" stroke-width="0.78"/>
<path d="M89 656L262 757.9" stroke="#231f20" stroke-width="0.67"/>
<path d="M0.5 572.3L186.8 679.8" stroke="#231f20" stroke-width="3.58"/>
<path d="M0.5 572.3L186.8 679.8" stroke="#fff" stroke-width="1.79"/>
<clipPath id="m1"><polygon points="1.5,574.8 38.5,596.1 38.5,726.7 33,726.5 27.8,724.8 26,721 24,717.4 20,717.8 14.8,718.3 10,716.5 5.5,713.7 3,711 1.5,706.3"/></clipPath>
<polygon points="1.5,574.8 38.5,596.1 38.5,726.7 33,726.5 27.8,724.8 26,721 24,717.4 20,717.8 14.8,718.3 10,716.5 5.5,713.7 3,711 1.5,706.3" stroke="none" stroke-width="0.1" fill="#fff" />
<g clip-path="url(#m1)" stroke="#231f20" stroke-width="1.2"><path d="M1.5 509.8L38.5 546.8M1.5 546.8L38.5 509.8M1.5 517.4L38.5 554.4M1.5 554.4L38.5 517.4M1.5 525L38.5 562M1.5 562L38.5 525M1.5 532.6L38.5 569.6M1.5 569.6L38.5 532.6M1.5 540.2L38.5 577.2M1.5 577.2L38.5 540.2M1.5 547.8L38.5 584.8M1.5 584.8L38.5 547.8M1.5 555.4L38.5 592.4M1.5 592.4L38.5 555.4M1.5 563L38.5 600M1.5 600L38.5 563M1.5 570.6L38.5 607.6M1.5 607.6L38.5 570.6M1.5 578.2L38.5 615.2M1.5 615.2L38.5 578.2M1.5 585.8L38.5 622.8M1.5 622.8L38.5 585.8M1.5 593.4L38.5 630.4M1.5 630.4L38.5 593.4M1.5 601L38.5 638M1.5 638L38.5 601M1.5 608.6L38.5 645.6M1.5 645.6L38.5 608.6M1.5 616.2L38.5 653.2M1.5 653.2L38.5 616.2M1.5 623.8L38.5 660.8M1.5 660.8L38.5 623.8M1.5 631.4L38.5 668.4M1.5 668.4L38.5 631.4M1.5 639L38.5 676M1.5 676L38.5 639M1.5 646.6L38.5 683.6M1.5 683.6L38.5 646.6M1.5 654.2L38.5 691.2M1.5 691.2L38.5 654.2M1.5 661.8L38.5 698.8M1.5 698.8L38.5 661.8M1.5 669.4L38.5 706.4M1.5 706.4L38.5 669.4M1.5 677L38.5 714M1.5 714L38.5 677M1.5 684.6L38.5 721.6M1.5 721.6L38.5 684.6M1.5 692.2L38.5 729.2M1.5 729.2L38.5 692.2M1.5 699.8L38.5 736.8M1.5 736.8L38.5 699.8M1.5 707.4L38.5 744.4M1.5 744.4L38.5 707.4M1.5 715L38.5 752M1.5 752L38.5 715M1.5 722.6L38.5 759.6M1.5 759.6L38.5 722.6M1.5 730.2L38.5 767.2M1.5 767.2L38.5 730.2M1.5 737.8L38.5 774.8M1.5 774.8L38.5 737.8M1.5 745.4L38.5 782.4M1.5 782.4L38.5 745.4M1.5 753L38.5 790M1.5 790L38.5 753M1.5 760.6L38.5 797.6M1.5 797.6L38.5 760.6M1.5 768.2L38.5 805.2M1.5 805.2L38.5 768.2M1.5 775.8L38.5 812.8M1.5 812.8L38.5 775.8M1.5 783.4L38.5 820.4M1.5 820.4L38.5 783.4M1.5 791L38.5 828M1.5 828L38.5 791"/></g>
<polyline points="1.5,574.8 1.5,706.3 3,711 5.5,713.7 10,716.5 14.8,718.3 20,717.8 24,717.4 26,721 27.8,724.8 33,726.5 38.5,726.7 38.5,596.1" stroke="#231f20" stroke-width="1.01" fill="none" />
<clipPath id="m2"><polygon points="147.7,660.4 184.5,681 184.5,811.5 180,811.5 175.8,810.5 172,806 169.3,800.8 163,800.5 156.4,799.2 150,793 147.7,786.2"/></clipPath>
<g clip-path="url(#m2)" stroke="#231f20" stroke-width="1.2"><path d="M147.7 595.4L184.5 632.2M147.7 632.2L184.5 595.4M147.7 603L184.5 639.8M147.7 639.8L184.5 603M147.7 610.6L184.5 647.4M147.7 647.4L184.5 610.6M147.7 618.2L184.5 655M147.7 655L184.5 618.2M147.7 625.8L184.5 662.6M147.7 662.6L184.5 625.8M147.7 633.4L184.5 670.2M147.7 670.2L184.5 633.4M147.7 641L184.5 677.8M147.7 677.8L184.5 641M147.7 648.6L184.5 685.4M147.7 685.4L184.5 648.6M147.7 656.2L184.5 693M147.7 693L184.5 656.2M147.7 663.8L184.5 700.6M147.7 700.6L184.5 663.8M147.7 671.4L184.5 708.2M147.7 708.2L184.5 671.4M147.7 679L184.5 715.8M147.7 715.8L184.5 679M147.7 686.6L184.5 723.4M147.7 723.4L184.5 686.6M147.7 694.2L184.5 731M147.7 731L184.5 694.2M147.7 701.8L184.5 738.6M147.7 738.6L184.5 701.8M147.7 709.4L184.5 746.2M147.7 746.2L184.5 709.4M147.7 717L184.5 753.8M147.7 753.8L184.5 717M147.7 724.6L184.5 761.4M147.7 761.4L184.5 724.6M147.7 732.2L184.5 769M147.7 769L184.5 732.2M147.7 739.8L184.5 776.6M147.7 776.6L184.5 739.8M147.7 747.4L184.5 784.2M147.7 784.2L184.5 747.4M147.7 755L184.5 791.8M147.7 791.8L184.5 755M147.7 762.6L184.5 799.4M147.7 799.4L184.5 762.6M147.7 770.2L184.5 807M147.7 807L184.5 770.2M147.7 777.8L184.5 814.6M147.7 814.6L184.5 777.8M147.7 785.4L184.5 822.2M147.7 822.2L184.5 785.4M147.7 793L184.5 829.8M147.7 829.8L184.5 793M147.7 800.6L184.5 837.4M147.7 837.4L184.5 800.6M147.7 808.2L184.5 845M147.7 845L184.5 808.2M147.7 815.8L184.5 852.6M147.7 852.6L184.5 815.8M147.7 823.4L184.5 860.2M147.7 860.2L184.5 823.4M147.7 831L184.5 867.8M147.7 867.8L184.5 831M147.7 838.6L184.5 875.4M147.7 875.4L184.5 838.6M147.7 846.2L184.5 883M147.7 883L184.5 846.2M147.7 853.8L184.5 890.6M147.7 890.6L184.5 853.8M147.7 861.4L184.5 898.2M147.7 898.2L184.5 861.4M147.7 869L184.5 905.8M147.7 905.8L184.5 869"/></g>
<polyline points="147.7,660.4 147.7,786.2 150,793 156.4,799.2 163,800.5 169.3,800.8 172,806 175.8,810.5 180,811.5 184.5,811.5 184.5,681" stroke="#231f20" stroke-width="1.01" fill="none" />
<ellipse cx="3.6" cy="577" rx="1.8" ry="2.7" stroke="#231f20" stroke-width="1.4" fill="none" transform="rotate(-25 3.6 577)"/>
<ellipse cx="8.9" cy="580.1" rx="1.8" ry="2.7" stroke="#231f20" stroke-width="1.4" fill="none" transform="rotate(-25 8.9 580.1)"/>
<ellipse cx="14.3" cy="583.1" rx="1.8" ry="2.7" stroke="#231f20" stroke-width="1.4" fill="none" transform="rotate(-25 14.3 583.1)"/>
<ellipse cx="19.6" cy="586.2" rx="1.8" ry="2.7" stroke="#231f20" stroke-width="1.4" fill="none" transform="rotate(-25 19.6 586.2)"/>
<ellipse cx="24.9" cy="589.3" rx="1.8" ry="2.7" stroke="#231f20" stroke-width="1.4" fill="none" transform="rotate(-25 24.9 589.3)"/>
<ellipse cx="30.3" cy="592.3" rx="1.8" ry="2.7" stroke="#231f20" stroke-width="1.4" fill="none" transform="rotate(-25 30.3 592.3)"/>
<ellipse cx="35.6" cy="595.4" rx="1.8" ry="2.7" stroke="#231f20" stroke-width="1.4" fill="none" transform="rotate(-25 35.6 595.4)"/>
<ellipse cx="150.4" cy="663.6" rx="1.8" ry="2.7" stroke="#231f20" stroke-width="1.4" fill="none" transform="rotate(-25 150.4 663.6)"/>
<ellipse cx="155.5" cy="666.5" rx="1.8" ry="2.7" stroke="#231f20" stroke-width="1.4" fill="none" transform="rotate(-25 155.5 666.5)"/>
<ellipse cx="160.6" cy="669.4" rx="1.8" ry="2.7" stroke="#231f20" stroke-width="1.4" fill="none" transform="rotate(-25 160.6 669.4)"/>
<ellipse cx="165.7" cy="672.3" rx="1.8" ry="2.7" stroke="#231f20" stroke-width="1.4" fill="none" transform="rotate(-25 165.7 672.3)"/>
<ellipse cx="170.8" cy="675.2" rx="1.8" ry="2.7" stroke="#231f20" stroke-width="1.4" fill="none" transform="rotate(-25 170.8 675.2)"/>
<ellipse cx="175.9" cy="678.1" rx="1.8" ry="2.7" stroke="#231f20" stroke-width="1.4" fill="none" transform="rotate(-25 175.9 678.1)"/>
<ellipse cx="181" cy="681" rx="1.8" ry="2.7" stroke="#231f20" stroke-width="1.4" fill="none" transform="rotate(-25 181 681)"/>
<path d="M0.3 570.2l5 3.6l4.2 -4l0.4 5.2M183 673l2.2 3.2l3 1.2l-0.8 3.2l-3.6 -0.4" stroke="#231f20" stroke-width="1.12" fill="none" />
<path d="M44.4 563L48.3 596" stroke="#231f20" stroke-width="0.67"/>
<path d="M38 676.7L54.6 700.7" stroke="#231f20" stroke-width="0.67"/>
<path d="M22.2 668.3L28.7 668.7" stroke="#231f20" stroke-width="1.01"/>
<path d="M182.1 669.9L190.7 656" stroke="#231f20" stroke-width="0.67"/>
<path d="M165.5 802.4L171.6 829" stroke="#231f20" stroke-width="0.67"/>
<polygon points="23.1,318 26.3,313.1 202.8,415.5 206.7,417.2 206.7,442.2 203.7,448.6 200.3,450.3 23.6,348.2" stroke="none" stroke-width="0.1" fill="#fff" />
<path d="M26.3 313.1L202.8 415.5" stroke="#231f20" stroke-width="1.01"/>
<path d="M23.1 318L26.3 313.1" stroke="#231f20" stroke-width="1.01"/>
<path d="M23.1 318L23.1 321" stroke="#231f20" stroke-width="0.9"/>
<path d="M23.6 319.6L200.8 420.1" stroke="#231f20" stroke-width="0.81"/>
<path d="M24.4 321.2L200.8 421.7" stroke="#231f20" stroke-width="0.81"/>
<path d="M24.4 321C22.6 322.1 22.6 324.1 23.6 325.8" stroke="#231f20" stroke-width="0.9" fill="none" />
<path d="M23.6 325.8L200.8 426.4" stroke="#231f20" stroke-width="0.81"/>
<path d="M24.4 327.4L200.8 428" stroke="#231f20" stroke-width="0.81"/>
<path d="M24.4 327.2C22.6 328.3 22.6 330.3 23.6 331.9" stroke="#231f20" stroke-width="0.9" fill="none" />
<path d="M23.6 331.9L200.8 432.7" stroke="#231f20" stroke-width="0.81"/>
<path d="M24.4 333.5L200.8 434.3" stroke="#231f20" stroke-width="0.81"/>
<path d="M24.4 333.3C22.6 334.4 22.6 336.4 23.6 338.1" stroke="#231f20" stroke-width="0.9" fill="none" />
<path d="M23.6 338.1L200.8 439" stroke="#231f20" stroke-width="0.81"/>
<path d="M24.4 339.7L200.8 440.6" stroke="#231f20" stroke-width="0.81"/>
<path d="M24.4 339.5C22.6 340.6 22.6 342.6 23.6 344.2" stroke="#231f20" stroke-width="0.9" fill="none" />
<path d="M23.6 343.3L199.7 444.4" stroke="#231f20" stroke-width="0.56"/>
<path d="M23.6 348.2L200.2 450.3" stroke="#231f20" stroke-width="1.01"/>
<path d="M23.4 341L23.4 348" stroke="#231f20" stroke-width="1.01"/>
<path d="M202.8 415.5L206.7 417.2" stroke="#231f20" stroke-width="1.01"/>
<path d="M206.7 417.2L206.7 430.6" stroke="#231f20" stroke-width="1.01"/>
<path d="M206.7 436.2L206.7 442.2" stroke="#231f20" stroke-width="1.01"/>
<path d="M204.1 416.5L204.1 443.5" stroke="#231f20" stroke-width="0.9"/>
<path d="M202.8 416.1L200.3 420.8" stroke="#231f20" stroke-width="1.12"/>
<path d="M202.8 422.4L200.3 427.1" stroke="#231f20" stroke-width="1.12"/>
<path d="M202.8 428.7L200.3 433.4" stroke="#231f20" stroke-width="1.12"/>
<path d="M202.8 435L200.3 439.7" stroke="#231f20" stroke-width="1.12"/>
<path d="M206.7 430.6L205 433.5M206.7 436.2L204.1 435M206.7 442.2L203.7 444.5L201 445" stroke="#231f20" stroke-width="0.9" fill="none" />
<path d="M200.3 444.3L200.3 450.3" stroke="#231f20" stroke-width="1.01"/>
<path d="M200.3 445.6L203.7 447.3L203.7 448.6L200.7 450.3" stroke="#231f20" stroke-width="0.9" fill="none" />
<path d="M139 377.8L150 363.2" stroke="#231f20" stroke-width="0.67"/>
<polygon points="40.6,783.5 48.5,779.2 225.6,881.5 225.6,884 224.5,913.3 221,916 218,916 40.9,815.6" stroke="none" stroke-width="0.1" fill="#fff" />
<path d="M48.5 779.2L225.6 881.5" stroke="#231f20" stroke-width="1.01"/>
<path d="M40.6 783.5L48.5 779.2" stroke="#231f20" stroke-width="1.01"/>
<path d="M40.6 783.5L40.6 790.5" stroke="#231f20" stroke-width="1.01"/>
<path d="M40.6 783.5L217.5 885.2" stroke="#231f20" stroke-width="0.56"/>
<path d="M41.2 791L217.5 890.6" stroke="#231f20" stroke-width="1.01"/>
<path d="M41.6 797L218.6 897.7" stroke="#231f20" stroke-width="0.81"/>
<path d="M41.6 798.6L218.6 899.3" stroke="#231f20" stroke-width="0.81"/>
<path d="M41.2 792.4C39.8 792.5 39.8 795.5 41.6 797" stroke="#231f20" stroke-width="0.9" fill="none" />
<path d="M41.6 802.9L218.6 903.7" stroke="#231f20" stroke-width="0.81"/>
<path d="M41.6 804.5L218.6 905.3" stroke="#231f20" stroke-width="0.81"/>
<path d="M41.2 798.2C39.8 798.4 39.8 801.4 41.6 802.9" stroke="#231f20" stroke-width="0.9" fill="none" />
<path d="M41.6 808.7L218.6 909.6" stroke="#231f20" stroke-width="0.81"/>
<path d="M41.6 810.3L218.6 911.2" stroke="#231f20" stroke-width="0.81"/>
<path d="M41.2 804.1C39.8 804.2 39.8 807.2 41.6 808.7" stroke="#231f20" stroke-width="0.9" fill="none" />
<path d="M41.6 814.5L218.6 915.6" stroke="#231f20" stroke-width="0.81"/>
<path d="M41.6 816.1L218.6 917.2" stroke="#231f20" stroke-width="0.81"/>
<path d="M41.2 809.9C39.8 810 39.8 813 41.6 814.5" stroke="#231f20" stroke-width="0.9" fill="none" />
<path d="M225.5 881.6L225.7 883.5L220.8 885.4L217.8 885.3M217.8 885.3L217.8 891.2L220.8 891.2" stroke="#231f20" stroke-width="0.9" fill="none" />
<path d="M224.9 882L225.4 883.4" stroke="#231f20" stroke-width="1.57"/>
<path d="M222.1 886.2L222.1 913.5" stroke="#231f20" stroke-width="1.01"/>
<path d="M224.7 887L224.7 900.6" stroke="#231f20" stroke-width="1.01"/>
<path d="M224.7 906.6L224.7 912.6" stroke="#231f20" stroke-width="1.01"/>
<path d="M224.7 900.6L223 903.5M224.7 906.6L222.1 905.4M224.7 912.6L222.1 914.5L219.5 914.8" stroke="#231f20" stroke-width="0.9" fill="none" />
<path d="M220.8 891.7L218.3 898.1" stroke="#231f20" stroke-width="1.12"/>
<path d="M220.8 898.9L218.3 904.1" stroke="#231f20" stroke-width="1.12"/>
<path d="M220.8 904.5L218.3 909.2" stroke="#231f20" stroke-width="1.12"/>
<path d="M220.4 910.5L218.3 916" stroke="#231f20" stroke-width="1.12"/>
<path d="M140.2 887.3L151.5 880.2" stroke="#231f20" stroke-width="0.67"/>
<polygon points="480.4,611.9 480.4,636.6 487.9,638.8 498.8,627 494.2,625.6 494.2,596.8 490.6,596.8" stroke="#231f20" stroke-width="1.01" fill="#fff" />
<path d="M494.2 625.6L487.9 632.5" stroke="#231f20" stroke-width="0.67"/>
<path d="M487.9 632.5L487.9 638.8" stroke="#231f20" stroke-width="0.0"/>
<path d="M482.3 610L482.3 635.5" stroke="#231f20" stroke-width="0.56"/>
<path d="M482.3 635.5L487.5 637" stroke="#231f20" stroke-width="0.56"/>
<polygon points="500.2,583.8 518.1,573.4 523.6,576.7 523.6,584.4 509.8,595.4 500.2,591.3" stroke="#231f20" stroke-width="1.12" fill="#fff" />
<polyline points="500.2,583.8 509.8,587.7 523.6,576.7" stroke="#231f20" stroke-width="1.01" fill="none" />
<path d="M509.8 587.7L509.8 595.4" stroke="#231f20" stroke-width="1.01"/>
<ellipse cx="504.8" cy="589.6" rx="2.1" ry="2.7" stroke="#231f20" stroke-width="0.78" fill="none"/>
<ellipse cx="513.6" cy="588.4" rx="1.9" ry="2.5" stroke="#231f20" stroke-width="0.78" fill="none"/>
<ellipse cx="519.6" cy="583.6" rx="1.9" ry="2.5" stroke="#231f20" stroke-width="0.78" fill="none"/>
<ellipse cx="507.8" cy="582.4" rx="2.4" ry="1.5" stroke="#231f20" stroke-width="0.78" fill="none" transform="rotate(-25 507.8 582.4)"/>
<ellipse cx="513.9" cy="579" rx="2.4" ry="1.5" stroke="#231f20" stroke-width="0.78" fill="none" transform="rotate(-25 513.9 579)"/>
<ellipse cx="519.2" cy="576.5" rx="2" ry="1.2" stroke="#231f20" stroke-width="0.78" fill="none" transform="rotate(-25 519.2 576.5)"/>
<path d="M506.3 595.4L506.3 638.8" stroke="#7a7a7a" stroke-width="0.78"/>
<polygon points="563.4,600.9 567.5,596.8 568.4,606.4 563.4,611.3" stroke="#231f20" stroke-width="0.9" fill="none" />
<ellipse cx="555.2" cy="609.1" rx="1.4" ry="2.6" stroke="#231f20" stroke-width="0.9" fill="none" transform="rotate(10 555.2 609.1)"/>
<polygon points="568.9,608.6 575.8,603.6 590.9,611.3 590.9,618.7 582.1,622.9 568.9,614.5" stroke="#231f20" stroke-width="1.01" fill="#fff" />
<polyline points="568.9,608.6 581.3,615.2 590.9,611.3" stroke="#231f20" stroke-width="0.9" fill="none" />
<path d="M581.3 615.2L582.1 622.9" stroke="#231f20" stroke-width="0.9"/>
<polygon points="583.5,616.5 588.8,614 588.8,618.3 583.5,620.8" stroke="#231f20" stroke-width="0.67" fill="none" />
<path d="M589.6 611L589.6 619" stroke="#231f20" stroke-width="0.56"/>
<circle cx="567.5" cy="616.5" r="3.4" stroke="#231f20" stroke-width="1.01" fill="#fff"/>
<circle cx="567.5" cy="616.5" r="1.8" stroke="#231f20" stroke-width="0.78" fill="none"/>
<ellipse cx="595.5" cy="620.9" rx="5.6" ry="7.6" stroke="#231f20" stroke-width="0.78" fill="#fff" transform="rotate(12 595.5 620.9)"/>
<path d="M581.3 607.7L606.5 592.1" stroke="#231f20" stroke-width="0.67"/>
<path d="M601.9 615.4L625.2 606.4" stroke="#231f20" stroke-width="0.67"/>
<path d="M570.3 621.5L577.7 631.9" stroke="#231f20" stroke-width="0.67"/>
</svg>
</body></html>
